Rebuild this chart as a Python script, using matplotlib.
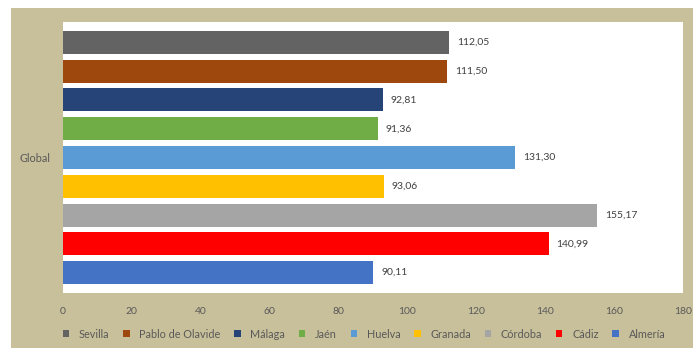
import matplotlib
matplotlib.use('Agg')

import matplotlib.pyplot as plt

plt.rcParams['font.family'] = ['Lato', 'DejaVu Sans']

# Data (legend order, top bar first)
universities = ['Sevilla', 'Pablo de Olavide', 'Málaga', 'Jaén', 'Huelva',
                'Granada', 'Córdoba', 'Cádiz', 'Almería']
values = [112.05, 111.50, 92.81, 91.36, 131.30, 93.06, 155.17, 140.99, 90.11]
colors = ['#636363', '#9e480e', '#264478', '#70ad47', '#5b9bd5',
          '#ffc000', '#a5a5a5', '#ff0000', '#4472c4']
category = 'Global'
xticks = [0, 20, 40, 60, 80, 100, 120, 140, 160, 180]

tan = '#c8c09a'
text_col = '#595959'

fig = plt.figure(figsize=(6.93, 3.48), dpi=100)
fig.patch.set_facecolor('white')

# tan chart-area background
bg = fig.add_axes([11 / 693, 0, 1, 340 / 348], zorder=-1)
bg.set_facecolor(tan)
bg.set_xticks([])
bg.set_yticks([])
for s in bg.spines.values():
    s.set_visible(False)

ax = fig.add_axes([63 / 693, 55 / 348, 620 / 693, 271 / 348], zorder=1)
ax.set_facecolor('white')

n = len(universities)
handles = []
for i, (name, v, c) in enumerate(zip(universities, values, colors)):
    pos = n - 1 - i
    b = ax.barh(pos, v, height=0.8, color=c, label=name)
    handles.append(b)
    ax.text(v + 2.3, pos, f"{v:.2f}".replace('.', ','), va='center', ha='left',
            fontsize=7.5, color='#404040')

ax.set_xlim(0, 180)
ax.set_ylim(-0.713, n - 1 + 0.713)
ax.set_xticks(xticks)
ax.set_xticklabels([str(t) for t in xticks], fontsize=7.5, color=text_col)
ax.set_yticks([(n - 1) / 2])
ax.set_yticklabels([category], fontsize=7.8, color=text_col)
ax.tick_params(axis='both', length=0)
ax.tick_params(axis='x', pad=10)
ax.tick_params(axis='y', pad=9)
for s in ax.spines.values():
    s.set_visible(False)

leg = fig.legend(handles=handles, labels=universities, loc='center', ncol=9,
                 bbox_to_anchor=(364 / 693, 14 / 348), frameon=False, fontsize=7.8,
                 handlelength=0.6, handleheight=0.6, handletextpad=0.9,
                 columnspacing=1.25, labelcolor=text_col)
leg.set_zorder(2)

fig.savefig('out.png', dpi=100, facecolor=fig.get_facecolor())
